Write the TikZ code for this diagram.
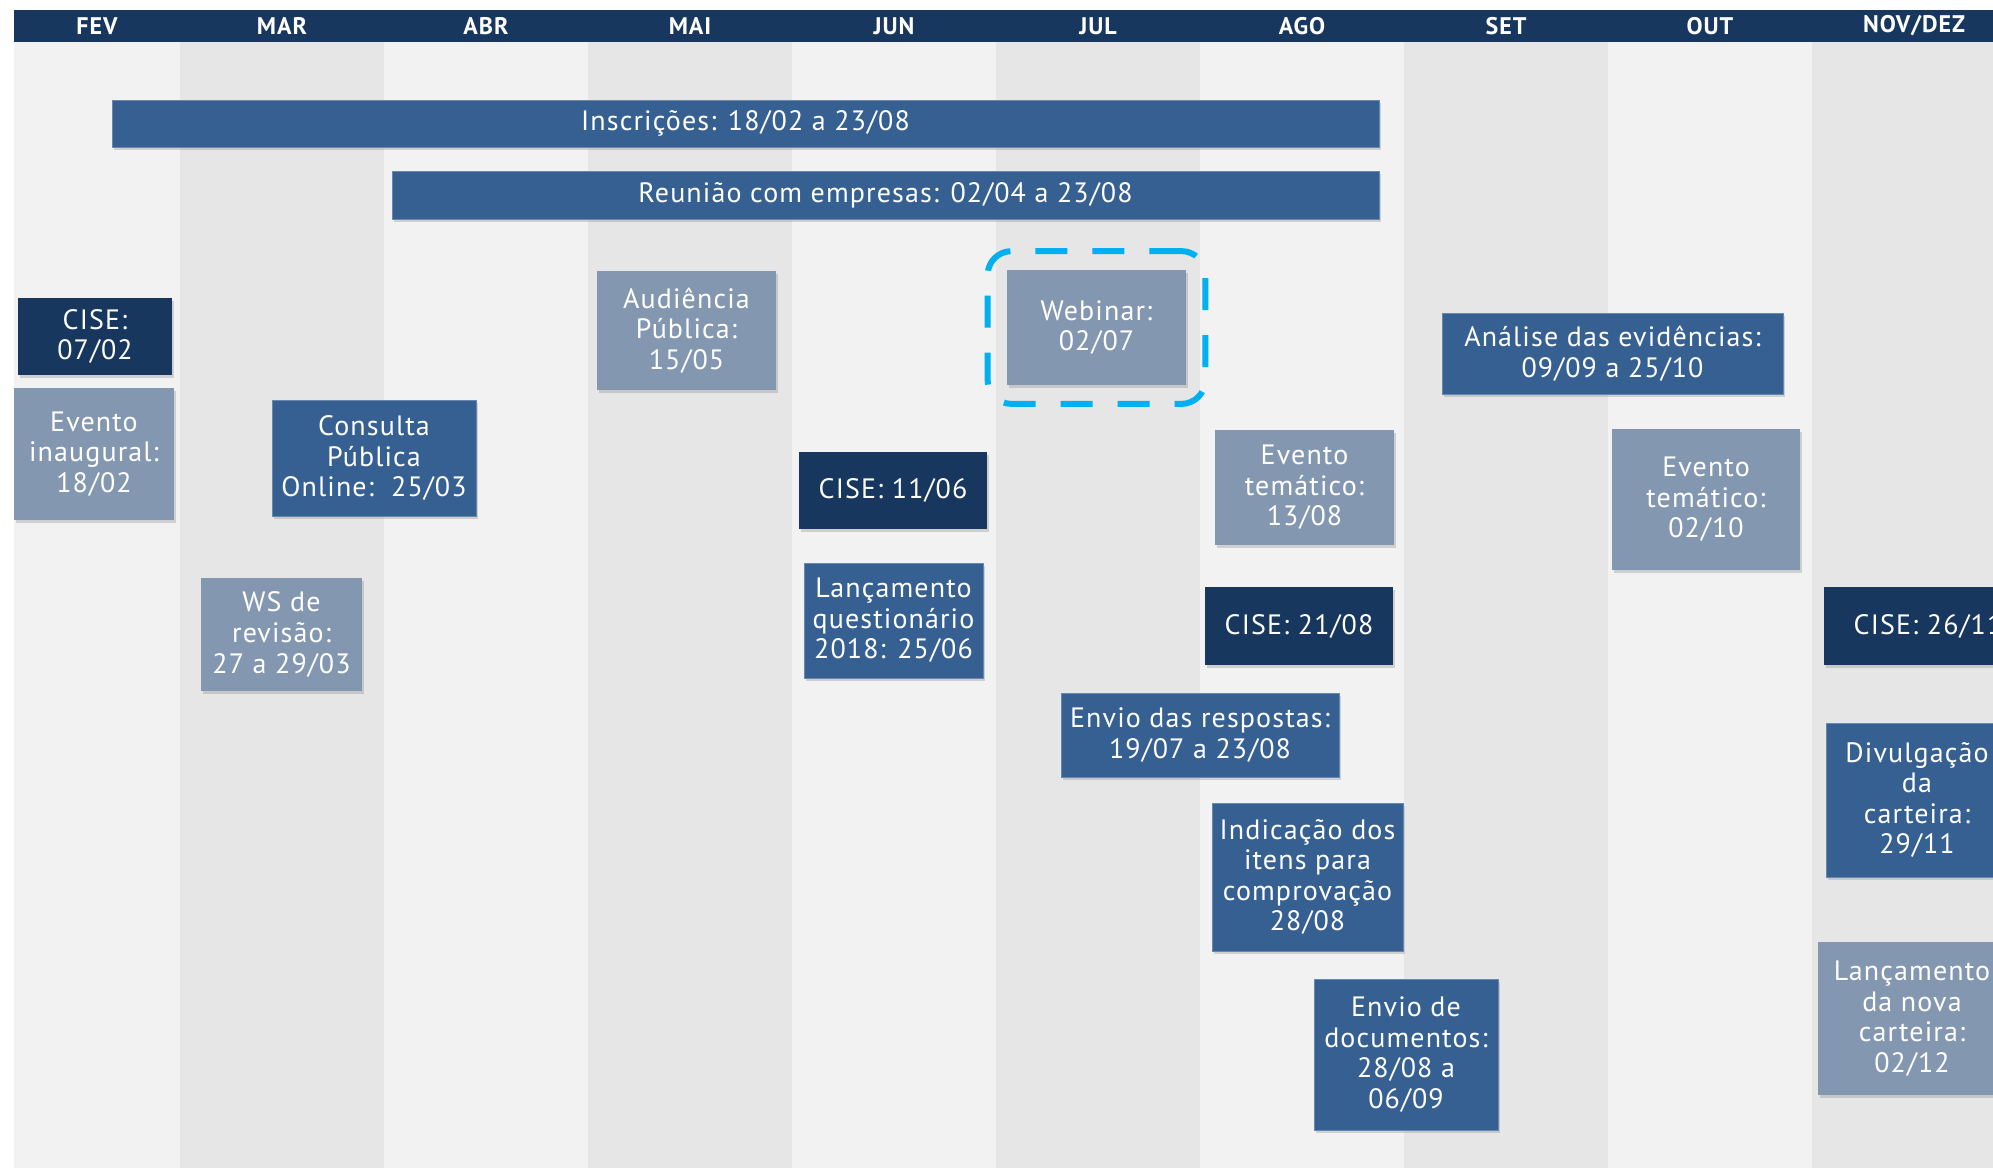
\documentclass[tikz,border=0pt]{standalone}
\usepackage{fontspec}
\setmainfont{PT Sans}[LetterSpace=4]
\usetikzlibrary{shadows,fit}

\definecolor{navy}{HTML}{17375E}
\definecolor{midblue}{HTML}{366092}
\definecolor{slate}{HTML}{8497B0}
\definecolor{stripe}{HTML}{F2F2F2}
\definecolor{stripedark}{HTML}{E6E6E6}
\definecolor{hilite}{HTML}{00B0F0}
\def\colw{204}

\tikzset{
  evt/.style={text=white, align=center, inner sep=0pt,
    font=\fontsize{14}{15.3}\selectfont,
    drop shadow={shadow xshift=1pt, shadow yshift=-1.5pt, opacity=0.3}},
  cise/.style={evt, fill=navy},
  azul/.style={evt, fill=midblue, draw=midblue!75!white, line width=0.5pt},
  cinza/.style={evt, fill=slate},
  mes/.style={text=white, font=\bfseries\fontsize{12}{13}\selectfont},
  destaque/.style={draw=hilite, line width=3pt, rounded corners=12pt,
    dash pattern=on 16pt off 12.5pt},
}

\begin{document}
\begin{tikzpicture}[x=0.5pt, y=-0.5pt]
  \path[use as bounding box, fill=white] (0,0) rectangle (1993,1168);
  \clip (0,0) rectangle (1993,1168);

  % month stripes
  \begin{scope}
    \clip (14,42) rectangle (1993,1168);
    \foreach \i in {0,...,9} {
      \pgfmathsetmacro\xa{-24+\colw*\i}
      \pgfmathtruncatemacro\odd{mod(\i,2)}
      \ifnum\odd=0
        \fill[stripe] (\xa,42) rectangle ++(\colw,1126);
      \else
        \fill[stripedark] (\xa,42) rectangle ++(\colw,1126);
      \fi
    }
  \end{scope}

  % header
  \fill[navy] (14,10) rectangle (1993,42);
  \foreach \m [count=\i from 0] in {FEV,MAR,ABR,MAI,JUN,JUL,AGO,SET,OUT,NOV/DEZ} {
    \pgfmathsetmacro\lx{\i==0 ? 97 : -24+\colw*\i+102}
    \node[mes] (mes\i) at (\lx,26) {\m};
  }

  % long bars
  \node[azul, minimum width=633.5pt, minimum height=23.5pt] (inscricoes) at (745.5,123.5) {Inscrições: 18/02 a 23/08};
  \node[azul, minimum width=493.5pt, minimum height=24pt] (reuniao) at (885.5,195) {Reunião com empresas: 02/04 a 23/08};

  % events
  \node[cise, minimum width=77pt, minimum height=38.5pt] (cise1) at (95,336.5) {CISE:\\07/02};
  \node[cinza, minimum width=80pt, minimum height=66pt] (inaugural) at (94,454) {Evento\\inaugural:\\18/02};
  \node[azul, minimum width=102pt, minimum height=58pt] (consulta) at (374,458) {Consulta\\Pública\\Online:~~25/03};
  \node[cinza, minimum width=80.5pt, minimum height=56.5pt] (ws) at (281.5,634.5) {WS de\\revisão:\\27 a 29/03};
  \node[cinza, minimum width=89.5pt, minimum height=59.5pt] (audiencia) at (686.5,330.5) {Audiência\\Pública:\\15/05};
  \node[cise, minimum width=94pt, minimum height=38.5pt] (cise2) at (893,490.5) {CISE: 11/06};
  \node[azul, minimum width=89.5pt, minimum height=57.5pt] (questionario) at (893.5,620.5) {Lançamento\\questionário\\2018: 25/06};
  \node[cinza, minimum width=89.5pt, minimum height=57.5pt] (webinar) at (1096.5,327.5) {Webinar:\\02/07};
  \node[destaque, fit=(webinar), inner xsep=9.5pt, inner ysep=9.25pt] (realce) {};
  \node[cinza, minimum width=89.5pt, minimum height=57.5pt] (tematico1) at (1304.5,487.5) {Evento\\temático:\\13/08};
  \node[cise, minimum width=94pt, minimum height=39pt] (cise3) at (1299,626) {CISE: 21/08};
  \node[azul, minimum width=139pt, minimum height=42pt] (respostas) at (1200,735) {Envio das respostas:\\19/07 a 23/08};
  \node[azul, minimum width=95.5pt, minimum height=74pt] (indicacao) at (1307.5,877) {Indicação dos\\itens para\\comprovação\\28/08};
  \node[azul, minimum width=92pt, minimum height=75.5pt] (documentos) at (1406,1054.5) {Envio de\\documentos:\\28/08 a\\06/09};
  \node[azul, minimum width=170.5pt, minimum height=40.5pt] (analise) at (1612.5,353.5) {Análise das evidências:\\09/09 a 25/10};
  \node[cinza, minimum width=94pt, minimum height=70.5pt] (tematico2) at (1706,499.5) {Evento\\temático:\\02/10};
  \node[cise, minimum width=104pt, minimum height=39pt] (cise4) at (1928,626) {CISE: 26/11};
  \node[azul, minimum width=91pt, minimum height=77pt] (divulgacao) at (1917,800) {Divulgação\\da\\carteira:\\29/11};
  \node[cinza, minimum width=94pt, minimum height=76.5pt] (lancamento) at (1912,1018.5) {Lançamento\\da nova\\carteira:\\02/12};
\end{tikzpicture}
\end{document}
